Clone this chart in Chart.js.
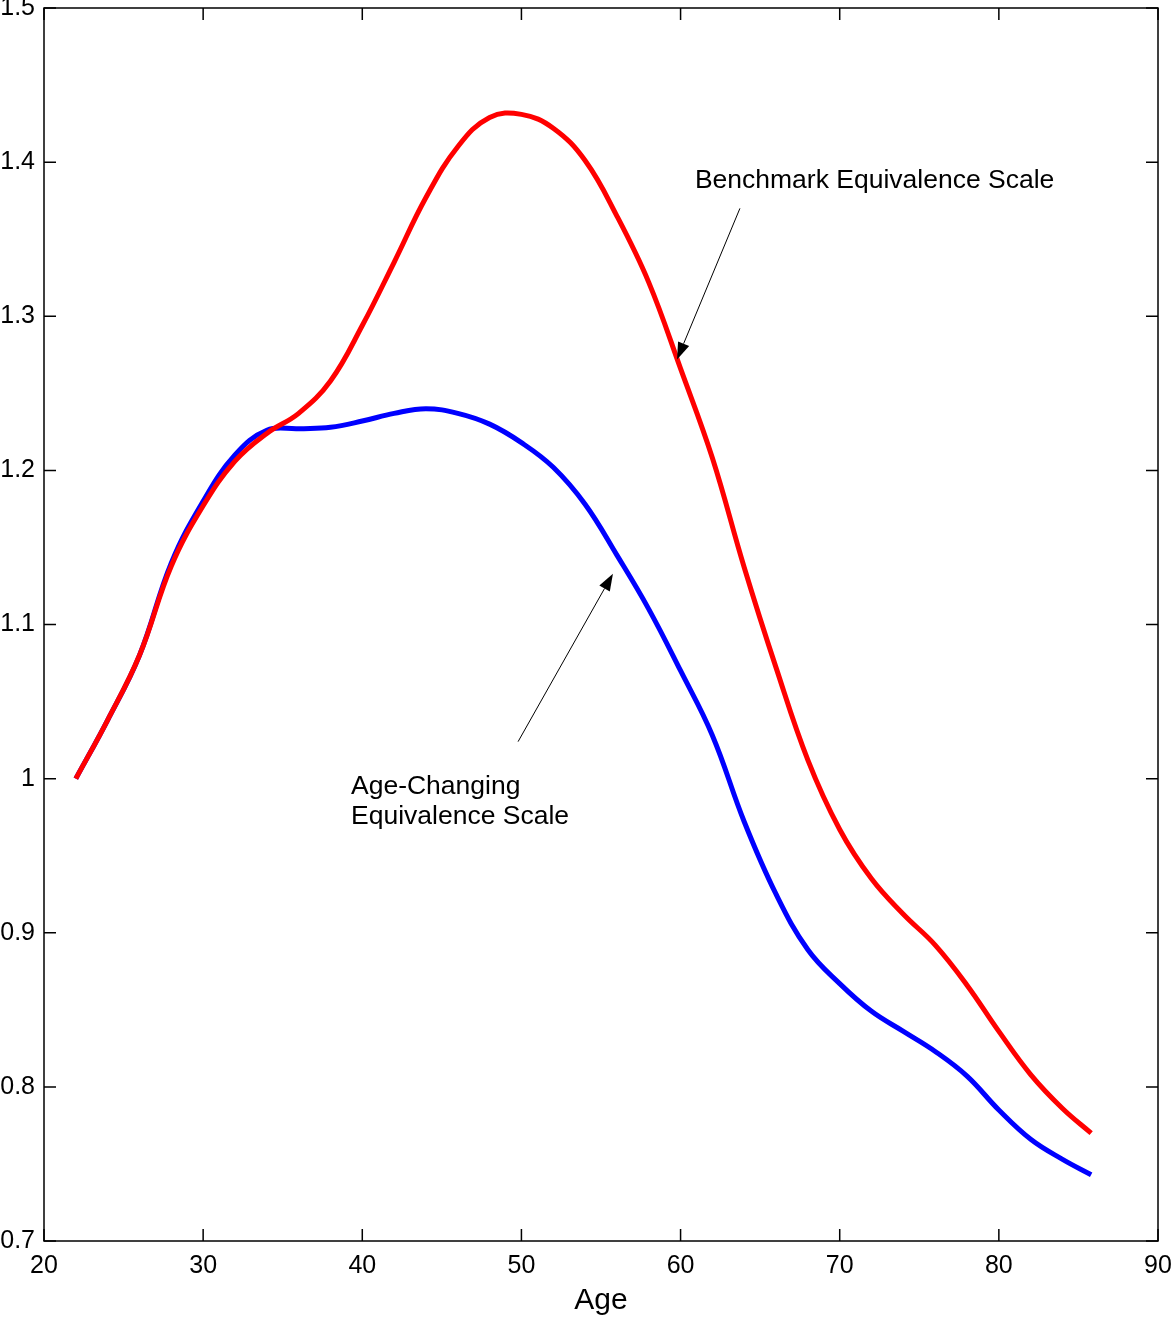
<!DOCTYPE html>
<html lang="en">
<head>
  <meta charset="UTF-8" />
  <title>Equivalence scales by age</title>
  <script src="https://cdn.jsdelivr.net/npm/chart.js"></script>
  <style>
    html, body { margin: 0; padding: 0; background: #fff; }
    #wrap { width: 1176px; height: 1317px; }
  </style>
</head>
<body>
  <div id="wrap"><canvas id="graphique"></canvas></div>

  <script>
    // valeurs
    const ages = [22, 24, 26, 28, 30, 32, 34, 36, 38, 40, 42, 44, 46, 48, 50, 52, 54, 56, 58, 60,
                  62, 64, 66, 68, 70, 72, 74, 76, 78, 80, 82, 84, 85.8];
    const benchmark = [1.000, 1.038, 1.080, 1.138, 1.177, 1.206, 1.224, 1.237, 1.258, 1.294, 1.335,
                       1.377, 1.410, 1.429, 1.431, 1.422, 1.401, 1.365, 1.322, 1.266, 1.208, 1.137,
                       1.072, 1.012, 0.967, 0.935, 0.912, 0.892, 0.866, 0.836, 0.808, 0.786, 0.770];
    const ageChanging = [1.000, 1.038, 1.080, 1.140, 1.180, 1.210, 1.226, 1.227, 1.228, 1.232, 1.237,
                         1.240, 1.237, 1.230, 1.218, 1.202, 1.178, 1.145, 1.110, 1.070, 1.028, 0.972,
                         0.925, 0.889, 0.867, 0.849, 0.836, 0.823, 0.807, 0.785, 0.766, 0.753, 0.743];
    const xTicks = [20, 30, 40, 50, 60, 70, 80, 90];
    const yTicks = [0.7, 0.8, 0.9, 1.0, 1.1, 1.2, 1.3, 1.4, 1.5];

    const FONT = "'Liberation Sans', Arial, Helvetica, sans-serif";

    // cadre + graduations vers l'intérieur, flèches et textes
    const cadre = {
      id: 'cadre',
      afterDraw(chart) {
        const { ctx, chartArea: a, scales: { x, y } } = chart;
        ctx.save();
        ctx.strokeStyle = '#000';
        ctx.lineWidth = 1.5;
        ctx.strokeRect(a.left, a.top, a.right - a.left, a.bottom - a.top);
        const L = 12;
        ctx.beginPath();
        xTicks.forEach(v => {
          const px = x.getPixelForValue(v);
          ctx.moveTo(px, a.bottom); ctx.lineTo(px, a.bottom - L);
          ctx.moveTo(px, a.top); ctx.lineTo(px, a.top + L);
        });
        yTicks.forEach(v => {
          const py = y.getPixelForValue(v);
          ctx.moveTo(a.left, py); ctx.lineTo(a.left + L, py);
          ctx.moveTo(a.right, py); ctx.lineTo(a.right - L, py);
        });
        ctx.stroke();

        function fleche(x0, y0, x1, y1) {
          const p0 = [x.getPixelForValue(x0), y.getPixelForValue(y0)];
          const p1 = [x.getPixelForValue(x1), y.getPixelForValue(y1)];
          const ang = Math.atan2(p1[1] - p0[1], p1[0] - p0[0]);
          const len = 17, w = 6;
          const bx = p1[0] - len * Math.cos(ang), by = p1[1] - len * Math.sin(ang);
          ctx.lineWidth = 1;
          ctx.beginPath();
          ctx.moveTo(p0[0], p0[1]); ctx.lineTo(bx, by);
          ctx.stroke();
          ctx.beginPath();
          ctx.moveTo(p1[0], p1[1]);
          ctx.lineTo(bx + w * Math.sin(ang), by - w * Math.cos(ang));
          ctx.lineTo(bx - w * Math.sin(ang), by + w * Math.cos(ang));
          ctx.closePath();
          ctx.fillStyle = '#000';
          ctx.fill();
        }
        fleche(63.73, 1.370, 59.78, 1.272);
        fleche(49.79, 1.024, 55.75, 1.133);

        ctx.fillStyle = '#000';
        ctx.font = '26.5px ' + FONT;
        ctx.textAlign = 'left';
        ctx.textBaseline = 'middle';
        ctx.fillText('Benchmark Equivalence Scale', x.getPixelForValue(60.9), y.getPixelForValue(1.388));
        ctx.fillText('Age-Changing', x.getPixelForValue(39.29), y.getPixelForValue(0.995));
        ctx.fillText('Equivalence Scale', x.getPixelForValue(39.29), y.getPixelForValue(0.975));
        ctx.restore();
      }
    };

    const pts = (xs, ys) => xs.map((a, i) => ({ x: a, y: ys[i] }));

    new Chart(document.getElementById('graphique'), {
      type: 'line',
      data: {
        datasets: [
          { label: 'Benchmark Equivalence Scale', data: pts(ages, benchmark), borderColor: '#ff0000',
            borderWidth: 5, pointRadius: 0, tension: 0.4, fill: false },
          { label: 'Age-Changing Equivalence Scale', data: pts(ages, ageChanging), borderColor: '#0000ff',
            borderWidth: 5, pointRadius: 0, tension: 0.4, fill: false }
        ]
      },
      options: {
        responsive: true,
        maintainAspectRatio: false,
        animation: false,
        layout: { padding: { top: 8, right: 18, left: 0, bottom: 0 } },
        plugins: { legend: { display: false }, tooltip: { enabled: false } },
        scales: {
          x: {
            type: 'linear', min: 20, max: 90,
            afterBuildTicks: s => { s.ticks = xTicks.map(v => ({ value: v })); },
            afterFit: s => { s.height = 76; s.paddingLeft = 0; s.paddingRight = 0; },
            grid: { display: false, drawTicks: false },
            border: { display: false },
            ticks: { color: '#000', font: { family: FONT, size: 25 }, padding: 10, maxRotation: 0 },
            title: { display: true, text: 'Age', color: '#000', font: { family: FONT, size: 30 }, padding: { top: 0, bottom: -2 } }
          },
          y: {
            min: 0.7, max: 1.5,
            afterBuildTicks: s => { s.ticks = yTicks.map(v => ({ value: v })); },
            afterFit: s => { s.width = 44; s.paddingTop = 0; s.paddingBottom = 0; },
            grid: { display: false, drawTicks: false },
            border: { display: false },
            ticks: { color: '#000', font: { family: FONT, size: 25 }, padding: 9,
                     callback: v => String(parseFloat(v.toFixed(1))) }
          }
        }
      },
      plugins: [cadre]
    });
  </script>
</body>
</html>
